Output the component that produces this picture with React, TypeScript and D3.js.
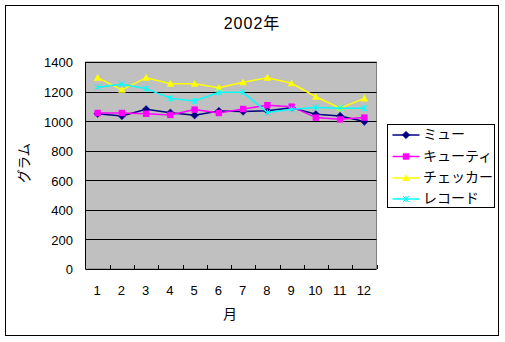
import React from "react";
import * as d3 from "d3";

const months = ["1","2","3","4","5","6","7","8","9","10","11","12"];
const seriesNames = ["ミュー","キューティ","チェッカー","レコード"];
const mu = [1050,1035,1080,1057,1040,1068,1065,1070,1090,1046,1035,997];
const cutie = [1055,1055,1050,1042,1078,1055,1082,1108,1098,1024,1012,1024];
const checker = [1294,1212,1294,1253,1253,1226,1263,1294,1256,1165,1087,1154];
const record = [1229,1249,1220,1154,1136,1195,1195,1058,1080,1093,1087,1087];
const yTicks = [0,200,400,600,800,1000,1200,1400];
const colors = ["#000080","#FF00FF","#FFFF00","#00FFFF"];
const markers = ["diamond","square","triangle","x"];
const title = "2002年";
const xTitle = "月";
const yTitle = "グラム";

const W = 505, H = 342;
const PL = 85.5, PR = 376.5, PT = 62, PB = 269;

function Marker({ type, x, y, color }: { type: string; x: number; y: number; color: string }) {
  if (type === "diamond") {
    const s = 3.8;
    return <path d={`M${x},${y - s}L${x + s},${y}L${x},${y + s}L${x - s},${y}Z`} fill={color} stroke={color} strokeWidth={0.5} />;
  }
  if (type === "square") {
    const s = 3.2;
    return <rect x={x - s} y={y - s} width={2 * s} height={2 * s} fill={color} />;
  }
  if (type === "triangle") {
    const s = 3.8;
    return <path d={`M${x},${y - s}L${x + s},${y + s * 0.8}L${x - s},${y + s * 0.8}Z`} fill={color} />;
  }
  const s = 3;
  return (
    <path d={`M${x - s},${y - s}L${x + s},${y + s}M${x - s},${y + s}L${x + s},${y - s}M${x},${y-s}L${x},${y+s}`} stroke={color} strokeWidth={1} fill="none" />
  );
}

export default function App() {
  const x = d3.scaleBand<string>().domain(months).range([PL, PR]).padding(0);
  const y = d3.scaleLinear().domain([0, 1400]).range([PB, PT]);
  const cx = (m: string) => (x(m) as number) + x.bandwidth() / 2;
  const data = [mu, cutie, checker, record];
  const line = d3.line<number>().x((_, i) => cx(months[i])).y((v) => y(v));
  const font = "'Liberation Sans', Arial, 'Noto Sans CJK JP', sans-serif";
  const jfont = "'Noto Sans CJK JP', sans-serif";

  const legX = 387.5, legY = 124.5, legW = 107, legH = 83;
  const rowY = [135, 156.5, 178, 199];

  return (
    <svg width={W} height={H} style={{ position: "absolute", left: 0, top: 0, background: "#fff" }}>
      <rect x={0} y={0} width={W} height={H} fill="#fff" />
      <rect x={5.5} y={5.5} width={493} height={330} fill="#fff" stroke="#000" strokeWidth={1} />
      <text x={252} y={25} textAnchor="middle" dominantBaseline="middle" fontFamily={font} fontSize={16} letterSpacing={1}>{title}</text>

      <rect x={PL} y={PT} width={PR - PL} height={PB - PT} fill="#C0C0C0" stroke="#808080" strokeWidth={1} />
      {yTicks.filter((t) => t > 0).map((t) => (
        <line key={t} x1={PL} x2={PR} y1={Math.round(y(t)) + 0.5} y2={Math.round(y(t)) + 0.5} stroke="#000" strokeWidth={1} />
      ))}
      <line x1={PL} x2={PL} y1={PT} y2={PB} stroke="#000" strokeWidth={1} />
      <line x1={PL} x2={PR} y1={PB + 0.5} y2={PB + 0.5} stroke="#000" strokeWidth={1} />
      {months.map((m) => (
        <line key={m} x1={Math.round((x(m) as number) + x.bandwidth()) + 0.5} x2={Math.round((x(m) as number) + x.bandwidth()) + 0.5} y1={PB} y2={PB - 4} stroke="#000" strokeWidth={1} />
      ))}

      {yTicks.map((t) => (
        <text key={t} x={73} y={y(t) + 2} textAnchor="end" dominantBaseline="middle" fontFamily={font} fontSize={13}>{t}</text>
      ))}
      {months.map((m) => (
        <text key={m} x={cx(m) - 0.5} y={292} textAnchor="middle" dominantBaseline="middle" fontFamily={font} fontSize={13}>{m}</text>
      ))}
      <text x={230} y={315} textAnchor="middle" dominantBaseline="middle" fontFamily={jfont} fontSize={14}>{xTitle}</text>
      <text transform={`translate(25,163) rotate(-90)`} textAnchor="middle" dominantBaseline="middle" fontFamily={jfont} fontSize={13.5}>{yTitle}</text>

      {data.map((s, si) => (
        <g key={si}>
          <path d={line(s) as string} fill="none" stroke={colors[si]} strokeWidth={1.5} />
          {s.map((v, i) => (
            <Marker key={i} type={markers[si]} x={cx(months[i])} y={y(v)} color={colors[si]} />
          ))}
        </g>
      ))}

      <rect x={legX} y={legY} width={legW} height={legH} fill="#fff" stroke="#000" strokeWidth={1} />
      {seriesNames.map((n, i) => (
        <g key={n}>
          <line x1={392.5} x2={419.5} y1={rowY[i]} y2={rowY[i]} stroke={colors[i]} strokeWidth={1.5} />
          <Marker type={markers[i]} x={406} y={rowY[i]} color={colors[i]} />
          <text x={423} y={rowY[i] + 0.5} dominantBaseline="middle" fontFamily={jfont} fontSize={14}>{n}</text>
        </g>
      ))}
    </svg>
  );
}
